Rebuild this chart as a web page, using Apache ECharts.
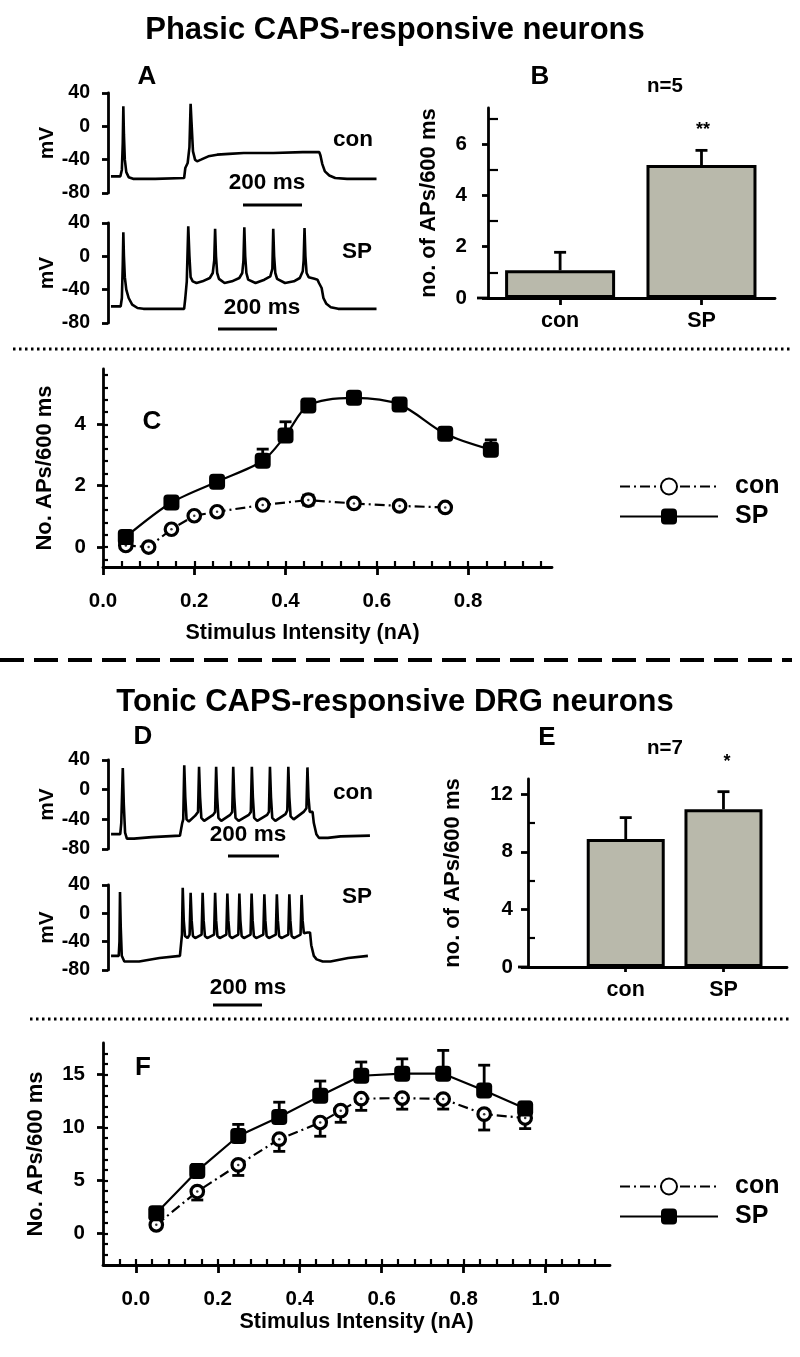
<!DOCTYPE html>
<html><head><meta charset="utf-8">
<script src="https://cdn.jsdelivr.net/npm/echarts@6/dist/echarts.min.js"></script>
<style>html,body{margin:0;padding:0;background:#fff}#c{width:800px;height:1357px}</style>
</head><body><div id="c"></div>
<script>
// ================= DATA =================
// Panel A: membrane potential traces (time ms, mV)
const traceA_con = [[0,-60],[32,-60],[37,-52],[40,-20],[42,24],[44,-10],[47,-40],[52,-55],[60,-61],[75,-63],[150,-63],[248,-62],[252,-50],[260,-44],[266,-25],[270,27],[273,5],[278,-30],[285,-40],[292,-42],[305,-40],[330,-36],[360,-34],[400,-33],[450,-32],[550,-32],[650,-31],[706,-31],[710,-35],[716,-45],[725,-54],[740,-59],[760,-62],[800,-63],[900,-63]];
const traceA_SP = [[0,-60],[33,-60],[37,-50],[40,-10],[42,29],[44,0],[47,-25],[52,-40],[60,-50],[72,-58],[90,-62],[110,-63],[248,-63],[252,-50],[257,-30],[262,36],[266,0],[270,-25],[277,-30],[290,-32],[310,-30],[335,-26],[345,-20],[350,-5],[353,33],[356,0],[360,-20],[366,-27],[385,-32],[410,-30],[435,-26],[445,-20],[449,-5],[452,35],[455,0],[459,-20],[465,-28],[490,-32],[520,-28],[540,-24],[547,-15],[550,33],[553,0],[557,-20],[563,-27],[590,-32],[620,-30],[640,-26],[650,-18],[653,-5],[656,34],[659,0],[663,-20],[670,-25],[690,-27],[700,-28],[705,-32],[710,-30],[714,-38],[720,-50],[730,-57],[745,-61],[770,-63],[900,-63]];
// Panel D traces
const traceD_con = [[0,-60],[36,-60],[40,-45],[46,29],[50,-20],[55,-58],[62,-66],[90,-66],[160,-64],[270,-62],[276,-60],[279,-45],[283,-40],[287,33],[291,-10],[296,-40],[305,-43],[330,-35],[341,-30],[345,31],[349,-10],[354,-38],[365,-42],[400,-34],[408,-30],[412,31],[416,-10],[421,-38],[432,-42],[467,-34],[475,-30],[479,31],[483,-10],[488,-38],[500,-42],[540,-34],[548,-30],[552,31],[556,-10],[561,-38],[573,-42],[612,-34],[619,-30],[623,31],[627,-10],[632,-38],[644,-42],[684,-33],[691,-28],[695,31],[699,-10],[704,-36],[716,-40],[755,-30],[766,-25],[770,30],[774,-10],[779,-30],[790,-30],[795,-45],[805,-60],[815,-65],[850,-65],[900,-63],[1015,-62]];
const traceD_SP = [[0,-60],[30,-60],[33,-40],[35,30],[38,-20],[42,-60],[52,-68],[110,-68],[190,-63],[270,-60],[276,-58],[278,-30],[281,36],[285,-10],[290,-32],[300,-35],[308,-30],[312,29],[316,-10],[321,-32],[330,-35],[355,-30],[359,29],[363,-10],[368,-32],[377,-35],[404,-30],[408,29],[412,-10],[417,-32],[426,-35],[452,-30],[456,28],[460,-10],[465,-32],[474,-35],[499,-30],[503,28],[507,-10],[512,-32],[521,-35],[547,-30],[551,28],[555,-10],[560,-32],[569,-35],[597,-30],[601,27],[605,-10],[610,-32],[619,-35],[646,-30],[650,27],[654,-10],[659,-32],[668,-35],[695,-30],[699,27],[703,-10],[708,-32],[717,-35],[743,-30],[747,26],[751,-10],[756,-28],[770,-27],[780,-27],[785,-45],[795,-60],[806,-65],[830,-68],[860,-68],[930,-63],[1007,-60]];
const traceTicks = [-80,-40,0,40];

// Panels B & E: bar charts
const barCats = ['con','SP'];
const barB = [1.08, 5.18];
const barB_err = [0.70, 0.57];
const barE = [8.88, 10.95];
const barE_err = [1.49, 1.22];
const ticksB_major = [0,2,4,6];
const ticksB_minor = [1,3,5,7];
const ticksE_major = [0,4,8,12];
const ticksE_minor = [2,6,10];

// Panel C: phasic neurons, stimulus-response
const stimC_con = [0.05,0.10,0.15,0.20,0.25,0.35,0.45,0.55,0.65,0.75];
const apsC_con  = [0.05,0.00,0.58,1.02,1.15,1.37,1.53,1.42,1.34,1.29];
const semC_con  = [0.05,0.05,0.08,0.06,0.08,0.08,0.16,0.08,0.08,0.08];
const stimC_SP  = [0.05,0.15,0.25,0.35,0.40,0.45,0.55,0.65,0.75,0.85];
const apsC_SP   = [0.33,1.45,2.13,2.81,3.63,4.61,4.86,4.64,3.69,3.17];
const semC_SP   = [0.08,0.10,0.12,0.38,0.45,0.20,0.08,0.10,0.20,0.32];
const ticksC_x  = [0,0.2,0.4,0.6,0.8];
const ticksC_y  = [0,2,4];

// Panel F: tonic neurons, stimulus-response
const stimF_con = [0.05,0.15,0.25,0.35,0.45,0.50,0.55,0.65,0.75,0.85,0.95];
const apsF_con  = [0.8,3.95,6.47,8.9,10.48,11.6,12.73,12.79,12.7,11.27,10.9];
const semF_con  = [0.3,0.8,1.0,1.15,1.3,1.1,1.1,1.05,0.95,1.5,1.0];
const stimF_SP  = [0.05,0.15,0.25,0.35,0.45,0.55,0.65,0.75,0.85,0.95];
const apsF_SP   = [1.9,5.9,9.2,11.0,13.0,14.9,15.1,15.1,13.5,11.8];
const semF_SP   = [0.3,0.6,1.1,1.4,1.4,1.3,1.4,2.2,2.4,0.6];
const ticksF_x  = [0,0.2,0.4,0.6,0.8,1.0];
const ticksF_y  = [0,5,10,15];

// ================= HELPERS =================
function range(a,b,s){const r=[];for(let v=a; v<=b+1e-9; v+=s) r.push(+v.toFixed(4)); return r;}
const minorC_x = range(0.04,0.96,0.04);
const minorC_y = range(-0.4,5.6,0.4);
const minorF_x = range(-0.04,1.12,0.04);
const minorF_y = range(-2,17,1);

const FONT = '"Liberation Sans", Arial, Helvetica, sans-serif';
const K = '#000';
const zip = (a,b,c) => a.map((v,i)=> c ? [v,b[i],c[i]] : [v,b[i]]);
const lab = (size, margin, extra) => Object.assign({color:K, fontFamily:FONT, fontWeight:'bold', fontSize:size, margin:margin}, extra||{});
const nameStyle = (size) => ({color:K, fontFamily:FONT, fontWeight:'bold', fontSize:size});
const line = (w) => ({show:true, onZero:false, lineStyle:{color:K, width:w}});
const noLine = {show:false, onZero:false};

function hiddenX(grid, min, max){
  return {type:'value', gridIndex:grid, min:min, max:max, show:false, axisLine:{onZero:false}, splitLine:{show:false}};
}
function traceY(grid){
  return {type:'value', gridIndex:grid, min:-80, max:40, position:'left',
    axisLine:line(2.8), splitLine:{show:false},
    axisTick:{show:true, customValues:traceTicks, length:6, lineStyle:{color:K,width:2.8}},
    axisLabel:lab(19.5,18,{customValues:traceTicks}),
    name:'mV', nameLocation:'middle', nameGap:50, nameTextStyle:nameStyle(21)};
}
function minorAxis(type, grid, min, max, pos, vals, len){
  return {type:'value', gridIndex:grid, min:min, max:max, position:pos, offset:0,
    axisLine:noLine, splitLine:{show:false}, axisLabel:{show:false},
    axisTick:{show:true, inside:true, customValues:vals, length:len, lineStyle:{color:K,width:2.2}}};
}

function errItem(dir){
  return function(params, api){
    const x=api.value(0), y=api.value(1), e=api.value(2);
    const c=api.coord([x,y]);
    const kids=[];
    const dirs = dir===0 ? [1,-1] : [dir];
    dirs.forEach(function(d){
      const p=api.coord([x, y + d*e]);
      kids.push({type:'line', shape:{x1:c[0],y1:c[1],x2:p[0],y2:p[1]}, style:{stroke:K,lineWidth:2.8}});
      kids.push({type:'line', shape:{x1:p[0]-6,y1:p[1],x2:p[0]+6,y2:p[1]}, style:{stroke:K,lineWidth:2.8}});
    });
    return {type:'group', children:kids};
  };
}
function errSeries(name, xi, yi, data, dir){
  return {type:'custom', name:name, xAxisIndex:xi, yAxisIndex:yi, data:data, renderItem:errItem(dir), z:1, silent:true, animation:false};
}
function traceSeries(xi, yi, data){
  return {type:'line', xAxisIndex:xi, yAxisIndex:yi, data:data, showSymbol:false, symbol:'none',
    lineStyle:{color:K, width:2.6}, animation:false, silent:true, z:2};
}
function conSeries(xi, yi, data){
  return {type:'line', name:'con', xAxisIndex:xi, yAxisIndex:yi, data:data, symbol:'circle', symbolSize:12.5,
    itemStyle:{color:'#fff', borderColor:K, borderWidth:3.2},
    lineStyle:{color:K, width:2.2, type:[10,4,2,4]}, animation:false, z:3};
}
function spSeries(xi, yi, data, smooth){
  return {type:'line', name:'SP', xAxisIndex:xi, yAxisIndex:yi, data:data, symbol:'roundRect', symbolSize:16,
    itemStyle:{color:K}, lineStyle:{color:K, width:2.2}, smooth:smooth, animation:false, z:4};
}
function dotSeries(xi, yi, data){
  return {type:'scatter', name:'dot', xAxisIndex:xi, yAxisIndex:yi, data:data, symbolSize:2.5,
    itemStyle:{color:K}, animation:false, silent:true, z:5};
}
function barSeries(xi, yi, vals, w){
  return {type:'bar', xAxisIndex:xi, yAxisIndex:yi, data:vals.map((v,i)=>[i+1, v]), barWidth:w,
    itemStyle:{color:'#b9b9ab', borderColor:K, borderWidth:3}, animation:false, silent:true, z:2};
}

// ================= OPTION =================
const grids = [
  {left:108, top:93,  width:270, height:100},   // 0 A con
  {left:108, top:223, width:270, height:100},   // 1 A SP
  {left:488, top:108, width:287, height:190},   // 2 B
  {left:103, top:369, width:449, height:198},   // 3 C
  {left:108, top:760, width:265, height:89},    // 4 D con
  {left:108, top:885, width:265, height:85},    // 5 D SP
  {left:528, top:779, width:259, height:188},   // 6 E
  {left:103, top:1043, width:507, height:222}   // 7 F
];

const xAxes = [
  hiddenX(0,-10,905),                      // 0
  hiddenX(1,-10,905),                      // 1
  {type:'value', gridIndex:2, min:0.49, max:2.52, position:'bottom', axisLine:line(2.8), splitLine:{show:false},
    axisTick:{show:true, customValues:[1,2], length:7, lineStyle:{color:K,width:2.8}},
    axisLabel:lab(21.5,12,{customValues:[1,2], formatter:v=>barCats[Math.round(v)-1]})},   // 2
  {type:'value', gridIndex:3, min:0, max:0.984, position:'bottom', axisLine:line(2.8), splitLine:{show:false},
    axisTick:{show:true, customValues:ticksC_x, length:8, lineStyle:{color:K,width:2.8}},
    axisLabel:lab(20.5,24,{customValues:ticksC_x, formatter:v=>v.toFixed(1)}),
    name:'Stimulus Intensity (nA)', nameLocation:'middle', nameGap:55, nameTextStyle:Object.assign(nameStyle(21.5),{padding:[0,50,0,0]})}, // 3
  minorAxis('x',3,0,0.984,'bottom',minorC_x,6),   // 4
  hiddenX(4,-12,1027),                     // 5
  hiddenX(5,-12,1027),                     // 6
  {type:'value', gridIndex:6, min:0, max:2.65, position:'bottom', axisLine:line(2.8), splitLine:{show:false},
    axisTick:{show:true, customValues:[1,2], length:5, lineStyle:{color:K,width:2.8}},
    axisLabel:lab(21.5,12,{customValues:[1,2], formatter:v=>barCats[Math.round(v)-1]})},   // 7
  {type:'value', gridIndex:7, min:-0.08, max:1.157, position:'bottom', axisLine:line(2.8), splitLine:{show:false},
    axisTick:{show:true, customValues:ticksF_x, length:8, lineStyle:{color:K,width:2.8}},
    axisLabel:lab(20.5,24,{customValues:ticksF_x, formatter:v=>v.toFixed(1)}),
    name:'Stimulus Intensity (nA)', nameLocation:'middle', nameGap:45, nameTextStyle:nameStyle(21.5)}, // 8
  minorAxis('x',7,-0.08,1.157,'bottom',minorF_x,6)   // 9
];

const yAxes = [
  traceY(0),                               // 0
  traceY(1),                               // 1
  {type:'value', gridIndex:2, min:0, max:7.4, position:'left', axisLine:line(2.8), splitLine:{show:false},
    axisTick:{show:true, customValues:ticksB_major, length:6, lineStyle:{color:K,width:2.8}},
    axisLabel:lab(20.5,21,{customValues:ticksB_major}),
    name:'no. of APs/600 ms', nameLocation:'middle', nameGap:48, nameTextStyle:nameStyle(22)},  // 2
  minorAxis('y',2,0,7.4,'left',ticksB_minor,10),   // 3
  {type:'value', gridIndex:3, min:-0.65, max:5.8, position:'left', axisLine:line(2.8), splitLine:{show:false},
    axisTick:{show:true, customValues:ticksC_y, length:6, lineStyle:{color:K,width:2.8}},
    axisLabel:lab(20.5,17,{customValues:ticksC_y}),
    name:'No. APs/600 ms', nameLocation:'middle', nameGap:47, nameTextStyle:nameStyle(22)},  // 4
  minorAxis('y',3,-0.65,5.8,'left',minorC_y,5),    // 5
  traceY(4),                               // 6
  traceY(5),                               // 7
  {type:'value', gridIndex:6, min:0, max:13.05, position:'left', axisLine:line(2.8), splitLine:{show:false},
    axisTick:{show:true, customValues:ticksE_major, length:7, lineStyle:{color:K,width:2.8}},
    axisLabel:lab(20.5,15,{customValues:ticksE_major}),
    name:'no. of APs/600 ms', nameLocation:'middle', nameGap:64, nameTextStyle:nameStyle(22)},  // 8
  minorAxis('y',6,0,13.05,'left',ticksE_minor,7),  // 9
  {type:'value', gridIndex:7, min:-3, max:18, position:'left', axisLine:line(2.8), splitLine:{show:false},
    axisTick:{show:true, customValues:ticksF_y, length:6, lineStyle:{color:K,width:2.8}},
    axisLabel:lab(20.5,18,{customValues:ticksF_y}),
    name:'No. APs/600 ms', nameLocation:'middle', nameGap:56, nameTextStyle:nameStyle(22)},  // 10
  minorAxis('y',7,-3,18,'left',minorF_y,5)         // 11
];

const series = [
  traceSeries(0,0,traceA_con),
  traceSeries(1,1,traceA_SP),
  traceSeries(5,6,traceD_con),
  traceSeries(6,7,traceD_SP),
  barSeries(2,2,barB,110),
  errSeries('errB',2,2,barB.map((v,i)=>[i+1,v,barB_err[i]]),1),
  barSeries(7,8,barE,78),
  errSeries('errE',7,8,barE.map((v,i)=>[i+1,v,barE_err[i]]),1),
  errSeries('errCcon',3,4,zip(stimC_con,apsC_con,semC_con),0),
  errSeries('errCsp',3,4,zip(stimC_SP,apsC_SP,semC_SP),1),
  conSeries(3,4,zip(stimC_con,apsC_con)),
  spSeries(3,4,zip(stimC_SP,apsC_SP),0.3),
  dotSeries(3,4,zip(stimC_con,apsC_con)),
  errSeries('errFcon',8,10,zip(stimF_con,apsF_con,semF_con),-1),
  errSeries('errFsp',8,10,zip(stimF_SP,apsF_SP,semF_SP),1),
  conSeries(8,10,zip(stimF_con,apsF_con)),
  spSeries(8,10,zip(stimF_SP,apsF_SP),false),
  dotSeries(8,10,zip(stimF_con,apsF_con))
];

function legendAt(top){
  return {data:['con','SP'], left:614, top:top, orient:'vertical', itemWidth:98, itemHeight:20, itemGap:5,
    selectedMode:false, textStyle:{fontSize:25, fontWeight:'bold', fontFamily:FONT, color:K, padding:[0,0,0,12]}};
}

function T(x,y,text,size,extra){
  return {type:'text', x:x, y:y, silent:true, style:Object.assign({text:text, fill:K, font:'bold '+size+'px '+FONT, align:'center', verticalAlign:'middle'}, extra||{})};
}
function L(x1,y1,x2,y2,w,dash){
  const st={stroke:K, lineWidth:w};
  if(dash) st.lineDash=dash;
  return {type:'line', silent:true, shape:{x1:x1,y1:y1,x2:x2,y2:y2}, style:st};
}

const graphics = [
  T(395,30,'Phasic CAPS-responsive neurons',31),
  T(395,702,'Tonic CAPS-responsive DRG neurons',31),
  T(147,77,'A',26), T(540,77,'B',26), T(152,422,'C',26),
  T(143,737,'D',26), T(547,738,'E',26), T(143,1068,'F',26),
  T(665,86,'n=5',20.5), T(703,130,'**',18),
  T(665,748,'n=7',20.5), T(727,762,'*',18),
  T(353,140,'con',22.5), T(357,252,'SP',22.5),
  T(353,793,'con',22.5), T(357,897,'SP',22.5),
  T(267,183,'200 ms',22.5), L(243,205,302,205,3),
  T(262,308,'200 ms',22.5), L(218,329,277,329,3),
  T(248,835,'200 ms',22.5), L(228,856,279,856,3),
  T(248,988,'200 ms',22.5), L(213,1005,262,1005,3),
  L(477,298,488,298,2.8), L(518,967,528,967,2.8),
  L(13,349,790,349,3,[2.5,3.5]),
  L(0,660,792,660,4,[24,10]),
  L(30,1019,790,1019,3,[2.5,3.5])
];

const chart = echarts.init(document.getElementById('c'), null, {renderer:'canvas', width:800, height:1357});
chart.setOption({
  backgroundColor:'#fff',
  animation:false,
  textStyle:{fontFamily:FONT},
  grid:grids,
  xAxis:xAxes,
  yAxis:yAxes,
  legend:[legendAt(469), legendAt(1169)],
  series:series,
  graphic:graphics
});
</script>
</body></html>
